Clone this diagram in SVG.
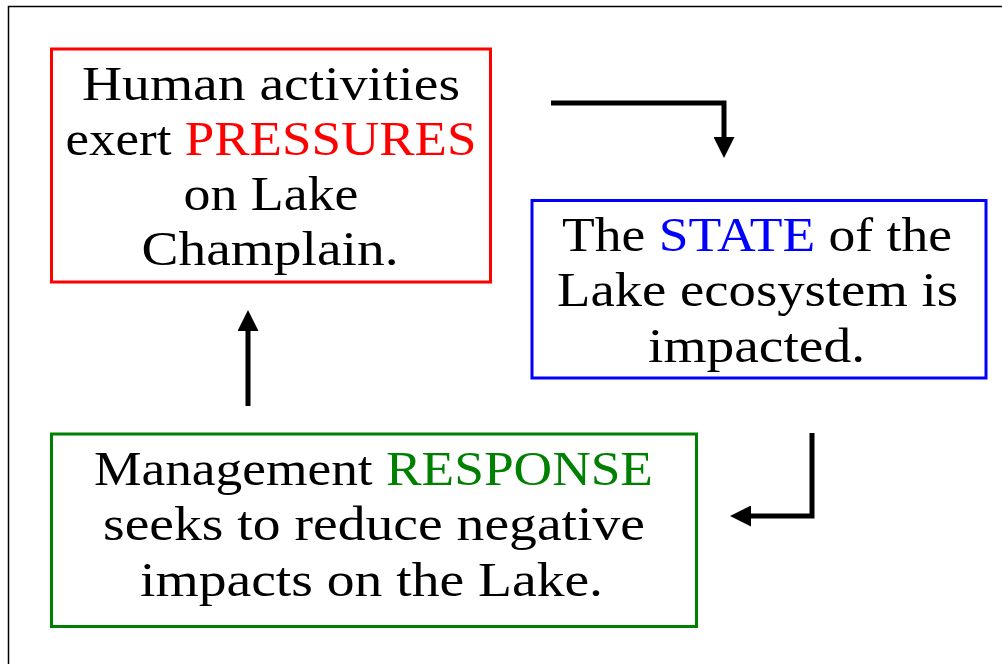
<svg xmlns="http://www.w3.org/2000/svg" width="1002" height="664" viewBox="0 0 1002 664">
  <style>
    .t { font-family: "Liberation Serif", "Times New Roman", serif; font-size: 48px; fill: #000; text-anchor: middle; }
    .box { fill: #fff; stroke-width: 3; }
    .conn { fill: none; stroke: #000; stroke-width: 5; stroke-linejoin: miter; }
  </style>
  <defs>
    <marker id="ah" markerUnits="userSpaceOnUse" markerWidth="21" markerHeight="21" refX="0" refY="10.5" orient="auto" viewBox="0 0 21 21">
      <path d="M0,0 L21,10.5 L0,21 z" fill="#000"/>
    </marker>
  </defs>
  <rect x="0" y="0" width="1002" height="664" fill="#fff"/>
  <rect id="frame" x="8.5" y="6.5" width="1000" height="700" fill="none" stroke="#000" stroke-width="1.5"/>

  <g id="pressures">
    <rect class="box" x="51.5" y="49" width="439" height="233" stroke="#ff0000"/>
    <text class="t" x="271" y="100" textLength="378" lengthAdjust="spacingAndGlyphs">Human activities</text>
    <text class="t" x="271" y="155" textLength="411" lengthAdjust="spacingAndGlyphs">exert <tspan fill="#ff0000">PRESSURES</tspan></text>
    <text class="t" x="271" y="210" textLength="175" lengthAdjust="spacingAndGlyphs">on Lake</text>
    <text class="t" x="270" y="265" textLength="257" lengthAdjust="spacingAndGlyphs">Champlain.</text>
  </g>

  <g id="state">
    <rect class="box" x="532" y="200.5" width="454" height="177.5" stroke="#0000ff"/>
    <text class="t" x="757" y="251" textLength="390" lengthAdjust="spacingAndGlyphs">The <tspan fill="#0000ff">STATE</tspan> of the</text>
    <text class="t" x="757.5" y="306" textLength="401" lengthAdjust="spacingAndGlyphs">Lake ecosystem is</text>
    <text class="t" x="756.5" y="361.5" textLength="217" lengthAdjust="spacingAndGlyphs">impacted.</text>
  </g>

  <g id="response">
    <rect class="box" x="51.5" y="434" width="645" height="192.5" stroke="#008000"/>
    <text class="t" x="373.5" y="485" textLength="559" lengthAdjust="spacingAndGlyphs">Management <tspan fill="#008000">RESPONSE</tspan></text>
    <text class="t" x="374" y="540" textLength="542" lengthAdjust="spacingAndGlyphs">seeks to reduce negative</text>
    <text class="t" x="371.5" y="596" textLength="463" lengthAdjust="spacingAndGlyphs">impacts on the Lake.</text>
  </g>

  <g id="connectors">
    <path class="conn" d="M551,103 H724 V137" marker-end="url(#ah)"/>
    <path class="conn" d="M812,433 V516 H751" marker-end="url(#ah)"/>
    <path class="conn" d="M248,406 V331" marker-end="url(#ah)"/>
  </g>
</svg>
